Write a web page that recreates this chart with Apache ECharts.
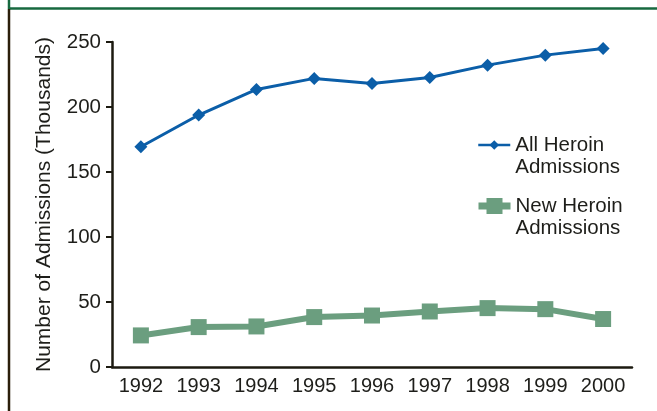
<!DOCTYPE html>
<html>
<head>
<meta charset="utf-8">
<script src="https://cdn.jsdelivr.net/npm/echarts@6/dist/echarts.min.js"></script>
<style>
html,body{margin:0;padding:0;background:#fff;}
#chart{width:657px;height:411px;}
</style>
</head>
<body>
<div id="chart"></div>
<script>
var years = ['1992','1993','1994','1995','1996','1997','1998','1999','2000'];
var allHeroin = [169.4, 193.8, 213.5, 222, 218, 222.7, 232.2, 239.9, 245];
var newHeroin = [24.3, 30.7, 31.2, 38.4, 39.6, 42.7, 45.3, 44.5, 36.9];
var seriesNames = ['All Heroin Admissions', 'New Heroin Admissions'];
var legendLines = {
  'All Heroin Admissions': ['All Heroin', 'Admissions'],
  'New Heroin Admissions': ['New Heroin', 'Admissions']
};
var yTitle = 'Number of Admissions (Thousands)';

var FONT = '"Liberation Sans", Arial, sans-serif';
var AXIS = '#1c1a10';
var TEXT = '#1e1e1a';
var BLUE = '#0b5ea8';
var GREEN = '#6b9e7f';

var chart = echarts.init(document.getElementById('chart'), null, {renderer: 'canvas'});
function legendFmt(name){ return ' \n' + legendLines[name].join('\n'); }
var legendText = {fontFamily: FONT, fontSize: 20.5, color: TEXT, lineHeight: 22};
chart.setOption({
  animation: false,
  backgroundColor: '#fff',
  grid: {left: 112, right: 25, top: 42, bottom: 44, containLabel: false},
  xAxis: {
    type: 'category',
    data: years,
    boundaryGap: true,
    axisLine: {lineStyle: {color: AXIS, width: 2.5}},
    axisTick: {alignWithLabel: true, interval: 0, length: 6, lineStyle: {color: AXIS, width: 2}},
    axisLabel: {interval: 0, hideOverlap: false, fontFamily: FONT, fontSize: 20, color: TEXT, margin: 9}
  },
  yAxis: {
    type: 'value',
    min: 0, max: 250, interval: 50,
    name: yTitle,
    nameLocation: 'middle',
    nameGap: 57,
    nameTextStyle: {fontFamily: FONT, fontSize: 21, color: TEXT},
    axisLine: {show: true, lineStyle: {color: AXIS, width: 2.5}},
    axisTick: {show: true, length: 6, lineStyle: {color: AXIS, width: 2}},
    axisLabel: {fontFamily: FONT, fontSize: 20.5, color: TEXT, margin: 11},
    splitLine: {show: false}
  },
  legend: [
    {
      data: [seriesNames[0]],
      left: 477, top: 112, padding: 0,
      itemWidth: 32, itemHeight: 12, itemGap: 0,
      formatter: legendFmt,
      lineStyle: {width: 2.5},
      textStyle: legendText
    },
    {
      data: [seriesNames[1]],
      left: 475, top: 173, padding: 0,
      itemWidth: 32, itemHeight: 20, itemGap: 0,
      formatter: legendFmt,
      lineStyle: {width: 7},
      textStyle: legendText
    }
  ],
  series: [
    {
      name: seriesNames[0],
      type: 'line',
      data: allHeroin,
      symbol: 'diamond',
      symbolSize: 13,
      itemStyle: {color: BLUE},
      lineStyle: {color: BLUE, width: 3}
    },
    {
      name: seriesNames[1],
      type: 'line',
      data: newHeroin,
      symbol: 'rect',
      symbolSize: 16,
      itemStyle: {color: GREEN},
      lineStyle: {color: GREEN, width: 6}
    }
  ],
  graphic: [
    {type: 'line', shape: {x1: 8, y1: 8.5, x2: 657, y2: 8.5}, style: {stroke: '#17693f', lineWidth: 2.5}, silent: true},
    {type: 'line', shape: {x1: 9, y1: 0, x2: 9, y2: 9}, style: {stroke: '#17693f', lineWidth: 2.5}, silent: true},
    {type: 'line', shape: {x1: 9, y1: 9, x2: 9, y2: 411}, style: {stroke: '#2b1e0a', lineWidth: 2.5}, silent: true}
  ]
});
</script>
</body>
</html>
